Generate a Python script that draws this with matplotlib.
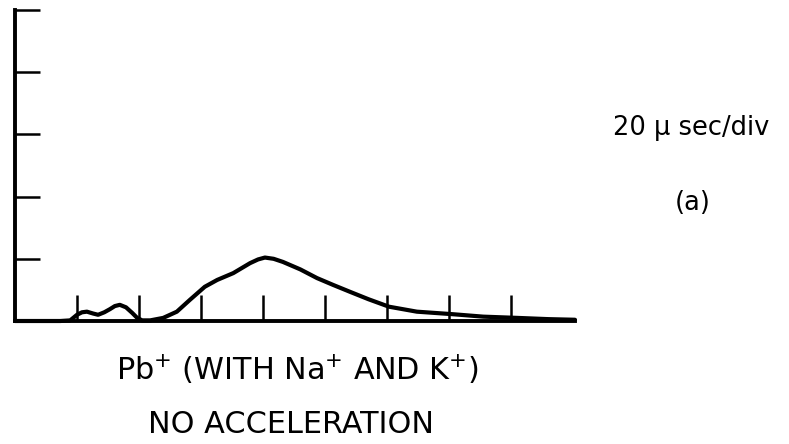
import matplotlib.pyplot as plt
import numpy as np

plt.rcParams['mathtext.default'] = 'regular'

# trace, in divisions (x: 20 usec/div)
t_div = [0, 0.73, 0.89, 1.0, 1.08, 1.16, 1.26, 1.34, 1.44, 1.53, 1.61, 1.69,
         1.79, 1.89, 1.97, 2.05, 2.18, 2.39, 2.61, 2.82, 3.06, 3.26, 3.52,
         3.79, 3.92, 4.03, 4.17, 4.32, 4.6, 4.87, 5.13, 5.40, 5.7, 6.03,
         6.48, 7.05, 7.55, 8.10, 8.6, 9.03]
signal = [0, 0, 0.01, 0.10, 0.14, 0.15, 0.12, 0.10, 0.14, 0.19, 0.24, 0.26,
          0.22, 0.13, 0.05, 0.01, 0.01, 0.05, 0.15, 0.34, 0.55, 0.66, 0.77,
          0.93, 0.99, 1.02, 1.00, 0.95, 0.83, 0.69, 0.58, 0.47, 0.35, 0.23,
          0.15, 0.11, 0.07, 0.05, 0.03, 0.02]
x_ticks = [1, 2, 3, 4, 5, 6, 7, 8]
y_ticks = [1, 2, 3, 4, 5]

W, H = 789, 444
fig = plt.figure(figsize=(W / 100, H / 100), dpi=100)
ax = fig.add_axes([15 / W, (H - 321) / H, (575 - 15) / W, (321 - 10) / H])

ax.plot(t_div, signal, color='black', lw=3.0, solid_capstyle='round',
        solid_joinstyle='round', clip_on=False)
ax.set_xlim(0, 9.03)
ax.set_ylim(0, 5)

for s in ['top', 'right']:
    ax.spines[s].set_visible(False)
ax.spines['left'].set_linewidth(2.8)
ax.spines['bottom'].set_linewidth(2.8)

ax.set_xticks(x_ticks)
ax.set_yticks(y_ticks)
ax.tick_params(axis='x', direction='in', length=19, width=1.8, labelbottom=False)
ax.tick_params(axis='y', direction='in', length=18, width=1.8, labelleft=False)

# labels
fig.text(297 / W, 1 - 380 / H, r'Pb$^{+}$ (WITH Na$^{+}$ AND K$^{+}$)',
         ha='center', va='baseline', fontsize=21.8)
fig.text(291 / W, 1 - 433 / H, 'NO ACCELERATION',
         ha='center', va='baseline', fontsize=21.8)
fig.text(613 / W, 1 - 135 / H, '20 \u03bc sec/div',
         ha='left', va='baseline', fontsize=18.5)
fig.text(693 / W, 1 - 203 / H, '(a)',
         ha='center', va='center', fontsize=18.5)

fig.savefig('out.png', dpi=100)
